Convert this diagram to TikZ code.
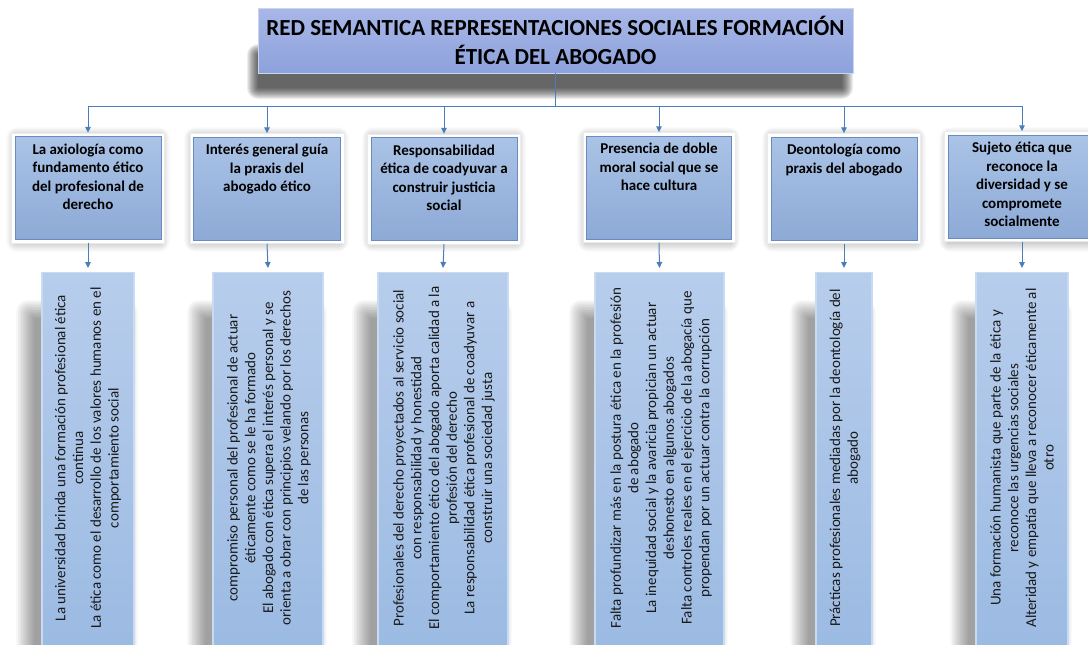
\documentclass[tikz,border=0pt]{standalone}
\usepackage{fontspec}
\setmainfont{Carlito}
\usetikzlibrary{arrows.meta}
\definecolor{connc}{HTML}{4A7EBB}
\definecolor{titletop}{HTML}{A9B7E8}
\definecolor{titlebot}{HTML}{8CA2DB}
\definecolor{toptop}{HTML}{AAC3E6}
\definecolor{topbot}{HTML}{8DAAD6}
\definecolor{topedge}{HTML}{6A8AC0}
\definecolor{lowtop}{HTML}{B7CDEC}
\definecolor{lowbot}{HTML}{9BBAE2}
\definecolor{lowedge}{HTML}{C9DBF3}
% soft shadow: #1 opacity per layer, #2 step, (#3,#4)-(#5,#6) core rectangle
\newcommand{\softrect}[6]{%
  \foreach \k in {0,1,...,11}{%
    \fill[black,opacity=#1,rounded corners=\k pt] ({#3-\k*#2},{#4-\k*#2}) rectangle ({#5+\k*#2},{#6+\k*#2});}}
\tikzset{
  titlebox/.style={draw=titletop!60!white, line width=0.8pt, top color=titletop, bottom color=titlebot,
    minimum width=595pt, minimum height=65pt, align=center, inner sep=0pt,
    font=\fontsize{23}{29}\selectfont\bfseries},
  topframe/.style={fill=white, draw=black!8, line width=0.4pt, minimum width=#1, minimum height=110pt, inner sep=0pt},
  topbox/.style={top color=toptop, bottom color=topbot, draw=topedge, line width=0.8pt,
    minimum width=#1, minimum height=103pt, inner sep=0pt},
  toptext/.style={align=center, inner sep=0pt, font=\fontsize{15}{18.5}\selectfont\bfseries},
  lowbox/.style={top color=lowtop, bottom color=lowbot, draw=lowedge, line width=1.2pt,
    minimum width=#1, minimum height=380pt, inner sep=0pt, anchor=north},
  lowtext/.style={rotate=90, align=center, inner sep=0pt, text=black!90,
    font=\fontsize{15}{17.7}\selectfont},
  conn/.style={draw=connc, line width=1pt},
  arr/.style={conn, -{Triangle[length=6pt,width=5.5pt]}}
}
\begin{document}
\begin{tikzpicture}[x=1pt,y=-1pt]
\useasboundingbox (0,0) rectangle (1088,645);
\fill[white] (0,0) rectangle (1088,645);

% ---------- shadows ----------
\softrect{0.07}{1.0}{258}{55}{842}{88}
\foreach \xa/\xb in {15/161,193/340,371/517,586/731,771/917,948/1096}{
  \softrect{0.015}{0.8}{\xa}{136}{\xb}{243}
}
\foreach \xa/\xb in {42/134,213/323,378/508,595/724,816/872,976/1068}{
  \softrect{0.035}{1.6}{\xa-8}{318}{\xb-14}{680}
}

% ---------- title ----------
\node[titlebox] (t) at (555.5,40.5) {RED SEMANTICA REPRESENTACIONES SOCIALES FORMACIÓN\\ÉTICA DEL ABOGADO};
\coordinate (h) at (555,106);

% ---------- top boxes ----------
\node[topframe=153pt] (f1) at (88,188) {};
\node[topbox=146pt] (a1) at (88,188) {};
\node[toptext, anchor=north] (a1t) at ([yshift=-7.5pt]a1.north) {La axiología como\\fundamento ético\\del profesional de\\derecho};

\node[topframe=154pt] (f2) at (267,188.5) {};
\node[topbox=147pt] (a2) at (267,188.5) {};
\node[toptext, anchor=north] (a2t) at ([yshift=-7.5pt]a2.north) {Interés general guía\\la praxis del\\abogado ético};

\node[topframe=153pt] (f3) at (444,189) {};
\node[topbox=146pt] (a3) at (444,189) {};
\node[toptext, anchor=north] (a3t) at ([yshift=-7.5pt]a3.north) {Responsabilidad\\ética de coadyuvar a\\construir justicia\\social};

\node[topframe=152pt] (f4) at (659,187.5) {};
\node[topbox=145pt] (a4) at (659,187.5) {};
\node[toptext, anchor=north] (a4t) at ([yshift=-7.5pt]a4.north) {Presencia de doble\\moral social que se\\hace cultura};

\node[topframe=153pt] (f5) at (844,188.5) {};
\node[topbox=146pt] (a5) at (844,188.5) {};
\node[toptext, anchor=north] (a5t) at ([yshift=-7.5pt]a5.north) {Deontología como\\praxis del abogado};

\node[topframe=155pt] (f6) at (1022,186.5) {};
\node[topbox=148pt] (a6) at (1022,186.5) {};
\node[toptext, anchor=north] (a6t) at ([yshift=-7.5pt]a6.north) {Sujeto ética que\\reconoce la\\diversidad y se\\compromete\\socialmente};

% ---------- bottom boxes ----------
\node[lowbox=92pt] (b1) at (88,272) {};
\node[lowtext] (b1t) at (88,458) {La universidad brinda una formación profesional ética\\continua\\La ética como el desarrollo de los valores humanos en el\\comportamiento social};

\node[lowbox=110pt] (b2) at (268,272) {};
\node[lowtext] (b2t) at (269,458) {compromiso personal del profesional de actuar\\éticamente como se le ha formado\\El abogado con ética supera el interés personal y se\\orienta a obrar con principios velando por los derechos\\de las personas};

\node[lowbox=130pt] (b3) at (443,272) {};
\node[lowtext] (b3t) at (444,458) {Profesionales del derecho proyectados al servicio social\\con responsabilidad y honestidad\\El comportamiento ético del abogado aporta calidad a la\\profesión del derecho\\La responsabilidad ética profesional de coadyuvar a\\construir una sociedad justa};

\node[lowbox=129pt] (b4) at (659.5,272) {};
\node[lowtext] (b4t) at (661,458) {Falta profundizar más en la postura ética en la profesión\\de abogado\\La inequidad social y la avaricia propician un actuar\\deshonesto en algunos abogados\\Falta controles reales en el ejercicio de la abogacía que\\propendan por un actuar contra la corrupción};

\node[lowbox=56pt] (b5) at (844,272) {};
\node[lowtext] (b5t) at (845,458) {Prácticas profesionales mediadas por la deontología del\\abogado};

\node[lowbox=92pt] (b6) at (1022,272) {};
\node[lowtext] (b6t) at (1022,458) {Una formación humanista que parte de la ética y\\reconoce  las urgencias sociales\\Alteridad y empatía que lleva a reconocer éticamente al\\otro};

% ---------- connectors ----------
\draw[conn] (t.south) -- (t.south |- h);
\draw[conn] (a1.north |- h) -- (a6.north |- h);
\foreach \i in {1,...,6}{
  \draw[arr] (a\i.north |- h) -- (f\i.north);
  \draw[arr] (f\i.south) -- ([yshift=4pt]b\i.north);
}
\end{tikzpicture}
\end{document}
